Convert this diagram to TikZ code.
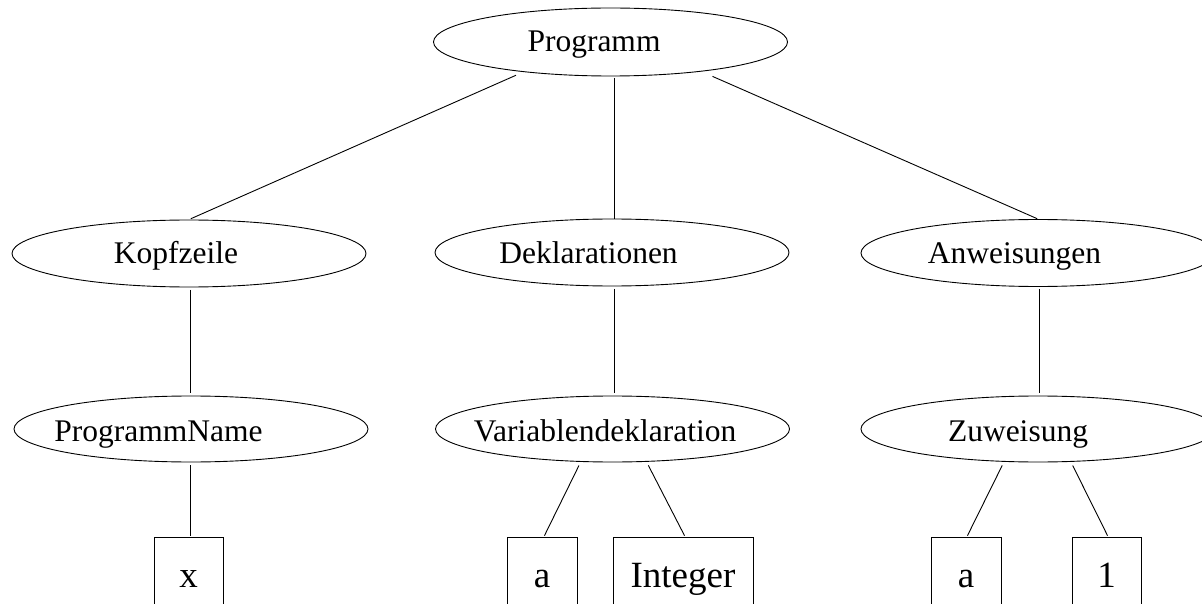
\documentclass[tikz,border=0pt]{standalone}
\usepackage{fontspec}
\setmainfont{Liberation Serif}
\usetikzlibrary{shapes.geometric}
\begin{document}
\begin{tikzpicture}[x=1pt,y=-1pt,
  ell/.style={draw, ellipse, line width=0.9pt, inner sep=0pt, minimum width=354pt},
  ellA/.style={ell, minimum height=68pt},
  ellB/.style={ell, minimum height=67pt},
  ellC/.style={ell, minimum height=66pt},
  lbl/.style={anchor=base, inner sep=0pt, font=\fontsize{31.5}{36}\selectfont},
  leaf/.style={draw, rectangle, line width=0.9pt, inner sep=0pt, minimum height=83.4pt,
    text height=25.9pt, text depth=9.25pt, font=\fontsize{37}{44}\selectfont},
  edge/.style={line width=0.9pt}
]
\useasboundingbox (0,0) rectangle (1202,604);
\fill[white] (0,0) rectangle (1202,604);
\clip (0,0) rectangle (1202,604);

% level 1
\node[ellA] (prog) at (610.5,42) {};
\node[lbl] (progT) at (594,52) {Programm};

% level 2
\node[ellB] (kopf) at (189,253.5) {};
\node[lbl] (kopfT) at (176,263) {Kopfzeile};
\node[ellB] (dekl) at (612,252.5) {};
\node[lbl] (deklT) at (588.5,263) {Deklarationen};
\node[ellB] (anw) at (1038,253) {};
\node[lbl] (anwT) at (1014.5,263) {Anweisungen};

% level 3
\node[ellC] (pname) at (191,429) {};
\node[lbl] (pnameT) at (158.5,441) {ProgrammName};
\node[ellC] (vdekl) at (612.5,429) {};
\node[lbl] (vdeklT) at (605,441) {Variablendeklaration};
\node[ellC] (zuw) at (1038,429) {};
\node[lbl] (zuwT) at (1018,441) {Zuweisung};

% leaves
\node[leaf, minimum width=69pt] (xbox) at (188.5,578.7) {x};
\node[leaf, minimum width=70pt] (abox) at (542,578.7) {a};
\node[leaf, minimum width=140pt] (intbox) at (683,578.7) {Integer};
\node[leaf, minimum width=70pt] (abox2) at (966,578.7) {a};
\node[leaf, minimum width=69pt] (one) at (1106.5,578.7) {1};

% edges level 1 -> 2
\draw[edge, shorten <=8pt, shorten >=2pt] (prog.199.25) -- (kopf.north);
\draw[edge, shorten <=1.5pt] ([xshift=3.5pt]prog.south) -- ([xshift=2pt]dekl.north);
\draw[edge, shorten <=12pt, shorten >=1pt] (prog.342.15) -- (anw.north);

% edges level 2 -> 3
\draw[edge, shorten <=2.5pt, shorten >=2.5pt] ([xshift=1pt]kopf.south) -- ([xshift=-1pt]pname.north);
\draw[edge, shorten <=2.5pt, shorten >=2.5pt] ([xshift=2pt]dekl.south) -- ([xshift=1.5pt]vdekl.north);
\draw[edge, shorten <=2.5pt, shorten >=2.5pt] ([xshift=1pt]anw.south) -- ([xshift=1pt]zuw.north);

% edges level 3 -> leaves
\draw[edge, shorten <=3pt, shorten >=1pt] ([xshift=-1pt]pname.south) -- ([xshift=1.5pt]xbox.north);
\draw[edge, shorten <=4pt, shorten >=1pt] (vdekl.226.6) -- ([xshift=2pt]abox.north);
\draw[edge, shorten <=4pt, shorten >=1pt] (vdekl.316.9) -- ([xshift=2pt]intbox.north);
\draw[edge, shorten <=4pt, shorten >=1pt] (zuw.224.4) -- ([xshift=1pt]abox2.north);
\draw[edge, shorten <=4pt, shorten >=1pt] (zuw.315.7) -- ([xshift=1.5pt]one.north);
\end{tikzpicture}
\end{document}
